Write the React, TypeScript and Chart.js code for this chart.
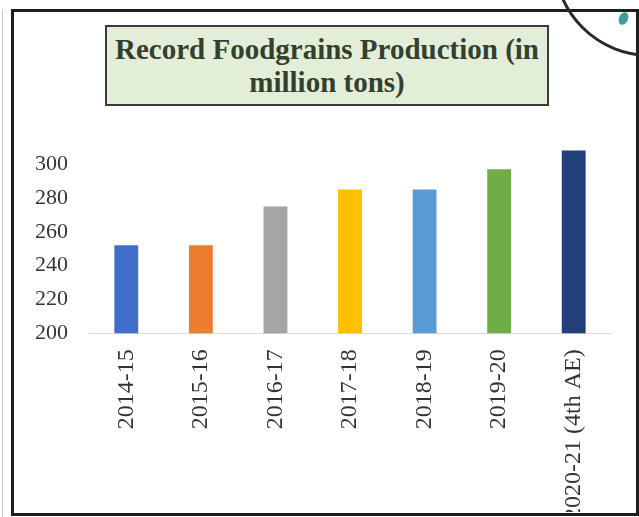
import React, { useEffect, useRef } from "react";
import { Chart, registerables } from "chart.js";

Chart.register(...registerables);

const categories = ["2014-15", "2015-16", "2016-17", "2017-18", "2018-19", "2019-20", "2020-21 (4th AE)"];
const production = [252, 252, 275, 285, 285, 297, 308];
const barColors = ["#3f6fc9", "#ed7d31", "#a5a5a5", "#ffc000", "#5b9bd5", "#70ad47", "#23407a"];
const yTickValues = [200, 220, 240, 260, 280, 300];
const titleLines = ["Record Foodgrains Production (in", "million tons)"];

const FONT = "'Liberation Serif', 'Times New Roman', serif";

export default function App() {
  const canvasRef = useRef<HTMLCanvasElement | null>(null);

  useEffect(() => {
    const canvas = canvasRef.current;
    if (!canvas) return;
    const chart = new Chart(canvas, {
      type: "bar",
      data: {
        labels: categories,
        datasets: [
          {
            data: production,
            backgroundColor: barColors,
            borderWidth: 0,
            categoryPercentage: 0.8,
            barPercentage: 0.4,
          },
        ],
      },
      options: {
        animation: false,
        responsive: false,
        maintainAspectRatio: false,
        layout: { padding: { left: 0, right: 25, top: 5, bottom: 5 } },
        plugins: {
          legend: { display: false },
          tooltip: { enabled: false },
          title: { display: false },
        },
        scales: {
          x: {
            grid: { display: false, drawTicks: false },
            border: { display: true, color: "#d9d9d9", width: 1 },
            ticks: {
              autoSkip: false,
              minRotation: 90,
              maxRotation: 90,
              padding: 16,
              color: "#333333",
              font: { family: FONT, size: 24 },
            },
          },
          y: {
            min: 200,
            max: 310,
            grid: { display: false, drawTicks: false },
            border: { display: false },
            afterBuildTicks: (scale: any) => {
              scale.ticks = yTickValues.map((v) => ({ value: v }));
            },
            ticks: {
              stepSize: 20,
              padding: 21,
              color: "#333333",
              font: { family: FONT, size: 22 },
            },
          },
        },
      },
    });
    return () => chart.destroy();
  }, []);

  return (
    <div
      style={{
        position: "fixed",
        left: 0,
        top: 0,
        width: 639,
        height: 517,
        background: "#ffffff",
        overflow: "hidden",
      }}
    >
      <div style={{ position: "absolute", left: 2, top: 10, width: 1, height: 507, background: "#c8c8c8" }} />
      <div
        style={{
          position: "absolute",
          left: 0,
          top: 0,
          width: 639,
          height: 512,
          overflow: "hidden",
        }}
      >
        <canvas
          ref={canvasRef}
          width={622}
          height={428}
          style={{ position: "absolute", left: 14, top: 113, width: 622, height: 428 }}
        />
      </div>
      <div
        style={{
          position: "absolute",
          left: 11,
          top: 9,
          width: 622,
          height: 501,
          border: "3px solid #1e1e1e",
        }}
      />
      <div style={{ position: "absolute", left: 630, top: 9, width: 9, height: 3, background: "#1e1e1e" }} />
      <div
        style={{
          position: "absolute",
          left: 553,
          top: -137,
          width: 194,
          height: 194,
          borderRadius: "50%",
          border: "3px solid #2a2a2a",
          boxSizing: "border-box",
        }}
      />
      <div
        style={{
          position: "absolute",
          left: 619,
          top: 12,
          width: 9,
          height: 13,
          borderRadius: "50%",
          background: "#3a9e9a",
          transform: "rotate(25deg)",
        }}
      />
      <div
        style={{
          position: "absolute",
          left: 105,
          top: 25,
          width: 440,
          height: 77,
          background: "#e3eed8",
          border: "2px solid #3a3a3a",
          display: "flex",
          flexDirection: "column",
          alignItems: "center",
          justifyContent: "center",
          fontFamily: FONT,
          fontSize: 29,
          fontWeight: "bold",
          lineHeight: "33px",
          color: "#34402f",
        }}
      >
        {titleLines.map((t) => (
          <div key={t}>{t}</div>
        ))}
      </div>
    </div>
  );
}
